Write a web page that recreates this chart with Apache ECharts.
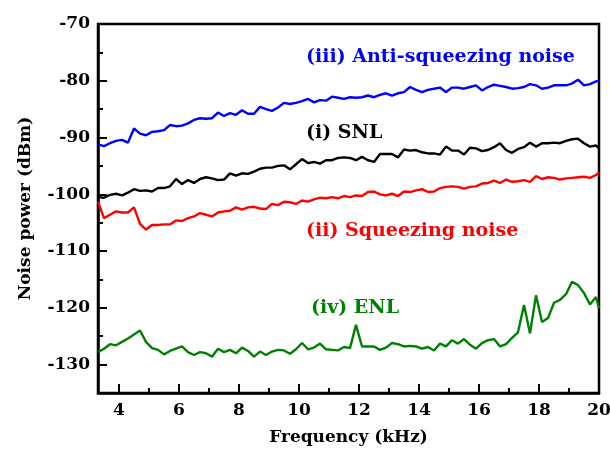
<!DOCTYPE html>
<html>
<head>
<meta charset="utf-8">
<title></title>
<script src="https://cdn.jsdelivr.net/npm/echarts@6/dist/echarts.min.js"></script>
<style type="text/css">
	body{ margin:0; background:#fff; }
	div#chart{ width:610px; height:452px; }
</style>
</head>
<body>
<div id="chart"></div>
<script type="text/javascript">
// frequency points (kHz)
var freq = [3.3,3.5,3.7,3.9,4.1,4.3,4.5,4.7,4.9,5.1,
	5.3,5.5,5.7,5.9,6.1,6.3,6.5,6.7,6.9,7.1,
	7.3,7.5,7.7,7.9,8.1,8.3,8.5,8.7,8.9,9.1,
	9.3,9.5,9.7,9.9,10.1,10.3,10.5,10.7,10.9,11.1,
	11.3,11.5,11.7,11.9,12.1,12.3,12.5,12.7,12.9,13.1,
	13.3,13.5,13.7,13.9,14.1,14.3,14.5,14.7,14.9,15.1,
	15.3,15.5,15.7,15.9,16.1,16.3,16.5,16.7,16.9,17.1,
	17.3,17.5,17.7,17.9,18.1,18.3,18.5,18.7,18.9,19.1,
	19.3,19.5,19.7,19.9,20.0];

// (i) SNL
var snl = [-100.5,-100.6,-100.1,-99.9,-100.2,-99.7,-99.1,-99.4,-99.3,-99.5,
	-98.9,-98.9,-98.6,-97.3,-98.2,-97.5,-98.0,-97.3,-97.0,-97.2,
	-97.5,-97.4,-96.3,-96.7,-96.3,-96.4,-96.0,-95.5,-95.3,-95.3,
	-95.0,-94.9,-95.6,-94.7,-93.8,-94.5,-94.3,-94.6,-94.0,-94.0,
	-93.6,-93.5,-93.6,-94.0,-93.4,-94.0,-94.3,-92.9,-92.9,-92.9,
	-93.5,-92.1,-92.3,-92.2,-92.6,-92.8,-92.8,-93.0,-91.6,-92.3,
	-92.3,-93.0,-91.8,-91.9,-92.4,-92.2,-91.7,-91.0,-92.2,-92.7,
	-92.0,-91.7,-90.9,-91.6,-91.0,-91.0,-90.9,-91.0,-90.6,-90.3,
	-90.2,-91.0,-91.6,-91.4,-91.9];

// (ii) squeezing noise
var squeezing = [-101.3,-104.2,-103.6,-103.0,-103.2,-103.2,-102.3,-105.2,-106.2,-105.4,
	-105.4,-105.3,-105.3,-104.6,-104.7,-104.2,-103.9,-103.3,-103.6,-103.9,
	-103.2,-103.0,-102.9,-102.3,-102.7,-102.3,-102.2,-102.5,-102.6,-101.7,
	-101.9,-101.3,-101.4,-101.7,-101.1,-101.3,-100.9,-100.6,-100.7,-100.5,
	-100.7,-100.3,-100.5,-100.2,-100.3,-99.6,-99.5,-100.0,-100.2,-99.9,
	-100.3,-99.5,-99.6,-99.3,-99.1,-99.6,-99.5,-98.9,-98.7,-98.6,
	-98.7,-99.0,-98.7,-98.6,-98.1,-98.0,-97.6,-98.0,-97.4,-97.8,
	-97.7,-97.5,-97.8,-96.8,-97.3,-97.0,-97.1,-97.4,-97.2,-97.1,
	-97.0,-96.9,-97.1,-96.6,-96.2];

// (iii) anti-squeezing noise
var antiSqueezing = [-91.2,-91.5,-91.0,-90.6,-90.4,-90.9,-88.4,-89.3,-89.6,-89.0,
	-88.9,-88.7,-87.8,-88.0,-87.9,-87.5,-86.9,-86.6,-86.7,-86.6,
	-85.6,-86.2,-85.7,-86.0,-85.2,-85.8,-85.8,-84.6,-85.0,-85.3,
	-84.7,-83.9,-84.1,-83.9,-83.6,-83.2,-83.8,-83.4,-83.5,-82.8,
	-83.0,-83.2,-82.9,-83.0,-82.9,-82.6,-82.9,-82.5,-82.2,-82.6,
	-82.2,-82.0,-81.1,-81.6,-82.0,-81.6,-81.4,-81.2,-82.0,-81.2,
	-81.2,-81.4,-81.1,-80.8,-81.7,-81.1,-80.7,-80.9,-81.1,-81.4,
	-81.3,-81.1,-80.6,-80.8,-81.4,-81.2,-80.8,-80.8,-80.8,-80.5,
	-79.8,-80.8,-80.6,-80.1,-80.0];

// (iv) ENL
var enl = [-127.8,-127.2,-126.4,-126.6,-126.0,-125.4,-124.7,-124.0,-126.0,-127.1,
	-127.4,-128.2,-127.6,-127.2,-126.8,-127.8,-128.3,-127.8,-128.0,-128.6,
	-127.2,-127.8,-127.4,-128.0,-127.0,-127.6,-128.6,-127.7,-128.3,-127.7,
	-127.4,-127.5,-128.1,-127.3,-126.2,-127.3,-127.0,-126.3,-127.3,-127.4,
	-127.5,-126.9,-127.1,-123.0,-126.8,-126.8,-126.8,-127.4,-127.0,-126.2,
	-126.4,-126.8,-126.7,-126.8,-127.2,-126.9,-127.5,-126.3,-126.8,-125.7,
	-126.3,-125.5,-126.5,-127.2,-126.2,-125.7,-125.5,-126.8,-126.4,-125.3,
	-124.3,-119.5,-124.5,-117.8,-122.5,-121.8,-119.1,-118.6,-117.6,-115.4,
	-116.0,-117.4,-119.4,-118.1,-120.1];

var xMajor = [4,6,8,10,12,14,16,18,20];
var xMinor = [5,7,9,11,13,15,17,19];
var yMajor = [-130,-120,-110,-100,-90,-80,-70];
var yMinor = [-125,-115,-105,-95,-85,-75];

var font = 'DejaVu Serif';

function pairs(vals){
	var out = [];
	for (var i=0;i<freq.length;i++) out.push([freq[i], vals[i]]);
	return out;
}

function line(name, vals, color){
	return {
		name: name,
		type: 'line',
		data: pairs(vals),
		showSymbol: false,
		symbol: 'none',
		lineStyle: { color: color, width: 2.4 },
		z: 3
	};
}

var myChart = echarts.init(document.getElementById('chart'));
var option = {
	backgroundColor: '#ffffff',
	animation: false,
	grid: {
		left: 98, right: 11, top: 24, bottom: 59,
		outerBoundsMode: 'none',
		containLabel: false,
		show: true,
		borderColor: '#000',
		borderWidth: 2.5,
		backgroundColor: 'transparent'
	},
	xAxis: [{
		type: 'value',
		min: 3.3, max: 20,
		position: 'bottom',
		name: 'Frequency (kHz)',
		nameLocation: 'middle',
		nameGap: 36,
		nameTextStyle: { fontFamily: font, fontWeight: 'bold', fontSize: 17, color: '#000' },
		axisLine: { show: true, lineStyle: { color: '#000', width: 2.5 } },
		axisTick: { show: true, inside: true, length: 9, customValues: xMajor, lineStyle: { color: '#000', width: 2 } },
		axisLabel: { customValues: xMajor, margin: 9, fontFamily: font, fontWeight: 'bold', fontSize: 17, color: '#000' },
		splitLine: { show: false }
	}, {
		type: 'value',
		min: 3.3, max: 20,
		position: 'bottom',
		axisLine: { show: false },
		axisTick: { show: true, inside: true, length: 5, customValues: xMinor, lineStyle: { color: '#000', width: 2 } },
		axisLabel: { show: false },
		splitLine: { show: false }
	}],
	yAxis: [{
		type: 'value',
		min: -135, max: -70,
		position: 'left',
		name: 'Noise power (dBm)',
		nameLocation: 'middle',
		nameGap: 64,
		nameTextStyle: { fontFamily: font, fontWeight: 'bold', fontSize: 17, color: '#000' },
		axisLine: { show: true, lineStyle: { color: '#000', width: 2.5 } },
		axisTick: { show: true, inside: true, length: 9, customValues: yMajor, lineStyle: { color: '#000', width: 2 } },
		axisLabel: { customValues: yMajor, margin: 8, fontFamily: font, fontWeight: 'bold', fontSize: 17, color: '#000' },
		splitLine: { show: false }
	}, {
		type: 'value',
		min: -135, max: -70,
		position: 'left',
		axisLine: { show: false },
		axisTick: { show: true, inside: true, length: 5, customValues: yMinor, lineStyle: { color: '#000', width: 2 } },
		axisLabel: { show: false },
		splitLine: { show: false }
	}],
	series: [
		line('(iii) Anti-squeezing noise', antiSqueezing, '#0000ff'),
		line('(i) SNL', snl, '#000000'),
		line('(ii) Squeezing noise', squeezing, '#ff0000'),
		line('(iv) ENL', enl, '#008000')
	],
	graphic: [
		{ type: 'text', left: 306, top: 48, style: { text: '(iii) Anti-squeezing noise', fill: '#0000ff', font: 'bold 19px "DejaVu Serif"' } },
		{ type: 'text', left: 306, top: 124, style: { text: '(i) SNL', fill: '#000000', font: 'bold 19px "DejaVu Serif"' } },
		{ type: 'text', left: 306, top: 222, style: { text: '(ii) Squeezing noise', fill: '#ff0000', font: 'bold 19px "DejaVu Serif"' } },
		{ type: 'text', left: 311, top: 299, style: { text: '(iv) ENL', fill: '#008000', font: 'bold 19px "DejaVu Serif"' } }
	]
};
myChart.setOption(option);
</script>
</body>
</html>
